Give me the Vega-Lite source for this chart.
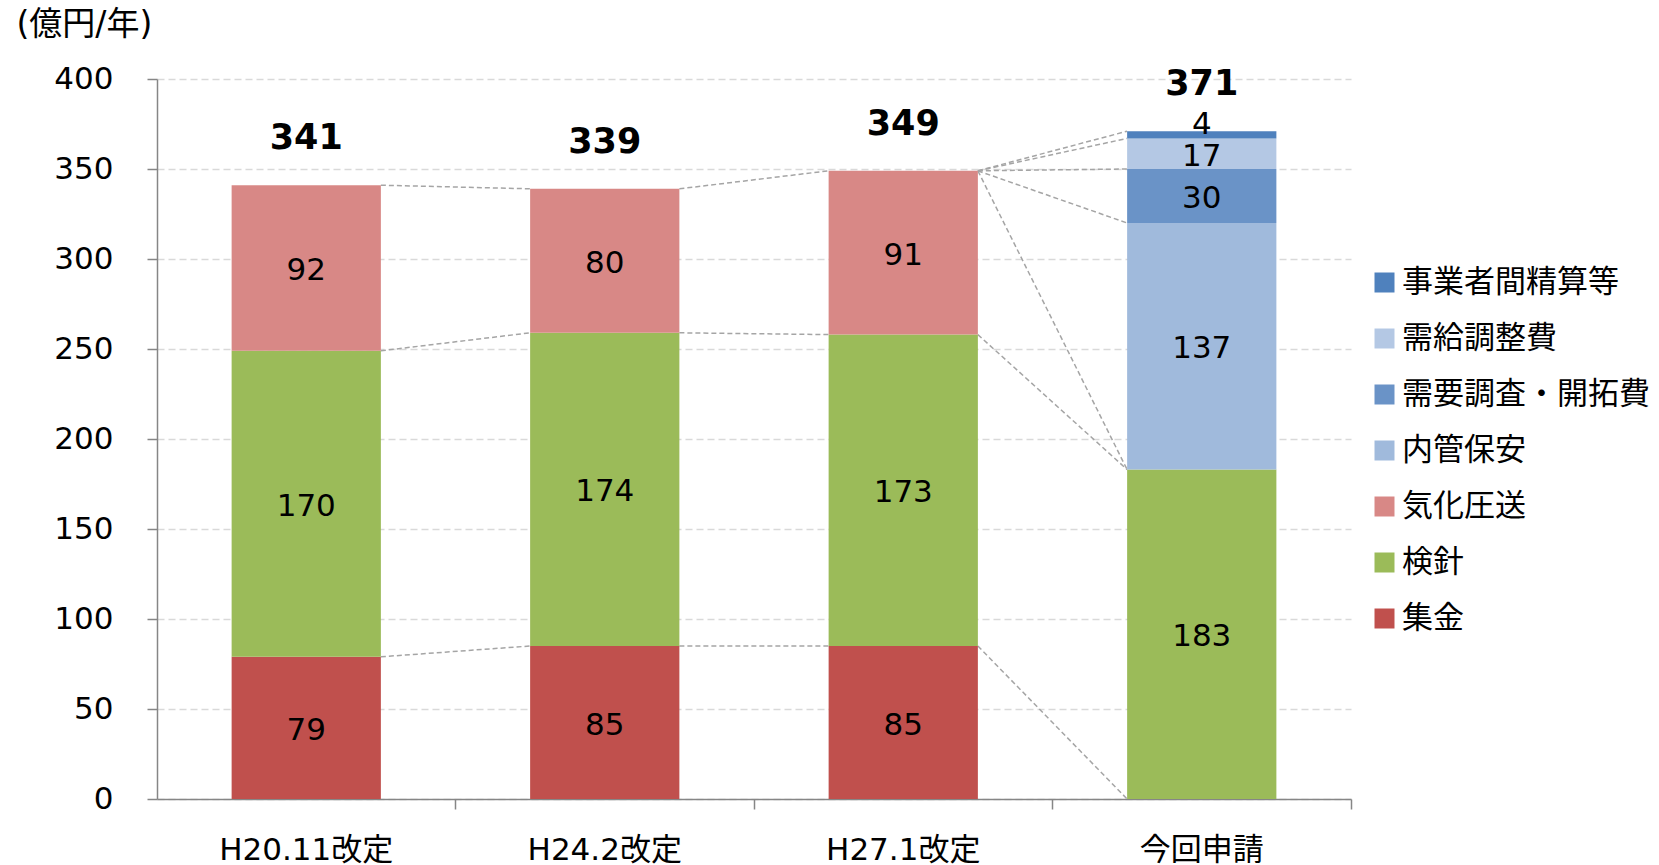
{
  "$schema": "https://vega.github.io/schema/vega-lite/v6.json",
  "autosize": {"type": "none"},
  "width": 1194,
  "height": 720,
  "padding": {"left": 157, "top": 79, "right": 308, "bottom": 66},
  "config": {
    "font": "DejaVu Sans, Noto Sans CJK JP",
    "view": {"stroke": null},
    "text": {"font": "DejaVu Sans, Noto Sans CJK JP"}
  },
  "datasets": {
    "parts": [
      {"cat": "H20.11改定", "item": "集金", "value": 79},
      {"cat": "H20.11改定", "item": "検針", "value": 170},
      {"cat": "H20.11改定", "item": "気化圧送", "value": 92},
      {"cat": "H24.2改定", "item": "集金", "value": 85},
      {"cat": "H24.2改定", "item": "検針", "value": 174},
      {"cat": "H24.2改定", "item": "気化圧送", "value": 80},
      {"cat": "H27.1改定", "item": "集金", "value": 85},
      {"cat": "H27.1改定", "item": "検針", "value": 173},
      {"cat": "H27.1改定", "item": "気化圧送", "value": 91},
      {"cat": "今回申請", "item": "検針", "value": 183},
      {"cat": "今回申請", "item": "内管保安", "value": 137},
      {"cat": "今回申請", "item": "需要調査・開拓費", "value": 30},
      {"cat": "今回申請", "item": "需給調整費", "value": 17},
      {"cat": "今回申請", "item": "事業者間精算等", "value": 4}
    ],
    "totals": [
      {"cat": "H20.11改定", "total": 341},
      {"cat": "H24.2改定", "total": 339},
      {"cat": "H27.1改定", "total": 349},
      {"cat": "今回申請", "total": 371}
    ],
    "links": [
      {"from": "H20.11改定", "to": "H24.2改定", "a": 79, "b": 85},
      {"from": "H20.11改定", "to": "H24.2改定", "a": 249, "b": 259},
      {"from": "H20.11改定", "to": "H24.2改定", "a": 341, "b": 339},
      {"from": "H24.2改定", "to": "H27.1改定", "a": 85, "b": 85},
      {"from": "H24.2改定", "to": "H27.1改定", "a": 259, "b": 258},
      {"from": "H24.2改定", "to": "H27.1改定", "a": 339, "b": 349},
      {"from": "H27.1改定", "to": "今回申請", "a": 85, "b": 0},
      {"from": "H27.1改定", "to": "今回申請", "a": 258, "b": 183},
      {"from": "H27.1改定", "to": "今回申請", "a": 349, "b": 183},
      {"from": "H27.1改定", "to": "今回申請", "a": 349, "b": 320},
      {"from": "H27.1改定", "to": "今回申請", "a": 349, "b": 350},
      {"from": "H27.1改定", "to": "今回申請", "a": 349, "b": 367},
      {"from": "H27.1改定", "to": "今回申請", "a": 349, "b": 371}
    ]
  },
  "encoding": {
    "x": {
      "field": "cat",
      "type": "nominal",
      "sort": ["H20.11改定", "H24.2改定", "H27.1改定", "今回申請"],
      "scale": {"paddingInner": 0.5, "paddingOuter": 0.25},
      "axis": {
        "title": null,
        "labelAngle": 0,
        "labelFontSize": 31,
        "labelColor": "#000000",
        "labelPadding": 26,
        "domainColor": "#868686",
        "domainWidth": 1.5,
        "tickColor": "#868686",
        "tickWidth": 1.5,
        "tickSize": 10,
        "bandPosition": 1.5,
        "grid": false
      }
    }
  },
  "layer": [
    {
      "data": {"name": "links"},
      "mark": {"type": "rule", "stroke": "#a5a5a5", "strokeWidth": 1.5, "strokeDash": [5, 3]},
      "encoding": {
        "x": {"field": "from", "type": "nominal", "bandPosition": 1},
        "x2": {"field": "to", "bandPosition": 0},
        "y": {"field": "a", "type": "quantitative"},
        "y2": {"field": "b"}
      }
    },
    {
      "data": {"name": "parts"},
      "transform": [{"window": [{"op": "row_number", "as": "k"}]}],
      "layer": [
        {
          "mark": {"type": "bar"},
          "encoding": {
            "y": {
              "field": "value",
              "type": "quantitative",
              "stack": "zero",
              "scale": {"domain": [0, 400], "nice": false},
              "axis": {
                "values": [0, 50, 100, 150, 200, 250, 300, 350, 400],
                "title": "(億円/年)",
                "titleAngle": 0,
                "titleAlign": "left",
                "titleBaseline": "middle",
                "titleX": -141,
                "titleY": -55,
                "titleFontSize": 33,
                "titleFontWeight": "normal",
                "titleColor": "#000000",
                "labelFontSize": 31,
                "labelColor": "#000000",
                "labelPadding": 34,
                "domainColor": "#868686",
                "domainWidth": 1.5,
                "tickColor": "#868686",
                "tickWidth": 1.5,
                "tickSize": 10,
                "grid": true,
                "gridColor": "#d9d9d9",
                "gridWidth": 1.5,
                "gridDash": [7, 4]
              }
            },
            "order": {"field": "k", "type": "quantitative"},
            "color": {
              "field": "item",
              "type": "nominal",
              "scale": {
                "domain": ["事業者間精算等", "需給調整費", "需要調査・開拓費", "内管保安", "気化圧送", "検針", "集金"],
                "range": ["#4F81BD", "#b4c8e4", "#6a93c7", "#a0badc", "#d88886", "#9BBB59", "#C0504D"]
              },
              "legend": {
                "title": null,
                "orient": "none",
                "legendX": 1212,
                "legendY": 188,
                "symbolType": "square",
                "symbolSize": 400,
                "symbolStrokeWidth": 0,
                "labelFontSize": 31,
                "labelColor": "#000000",
                "labelOffset": 2,
                "rowPadding": 24,
                "padding": 0,
                "labelLimit": 400
              }
            }
          }
        },
        {
          "transform": [{"filter": "datum.item !== '事業者間精算等'"}],
          "mark": {"type": "text", "fontSize": 31, "color": "#000000", "baseline": "middle", "dy": 3},
          "encoding": {
            "y": {"field": "value", "type": "quantitative", "stack": "zero", "bandPosition": 0.5},
            "order": {"field": "k", "type": "quantitative"},
            "text": {"field": "value", "type": "quantitative"}
          }
        },
        {
          "mark": {"type": "text", "fontSize": 31, "color": "#000000", "baseline": "middle", "dy": -10},
          "encoding": {
            "y": {"field": "value", "type": "quantitative", "stack": "zero", "bandPosition": 0.5},
            "order": {"field": "k", "type": "quantitative"},
            "text": {"field": "value", "type": "quantitative"},
            "opacity": {"condition": {"test": "datum.item === '事業者間精算等'", "value": 1}, "value": 0}
          }
        }
      ]
    },
    {
      "data": {"name": "totals"},
      "mark": {"type": "text", "fontSize": 35, "fontWeight": "bold", "color": "#000000", "baseline": "middle", "dy": -47},
      "encoding": {
        "y": {"field": "total", "type": "quantitative"},
        "text": {"field": "total", "type": "quantitative"}
      }
    }
  ]
}
